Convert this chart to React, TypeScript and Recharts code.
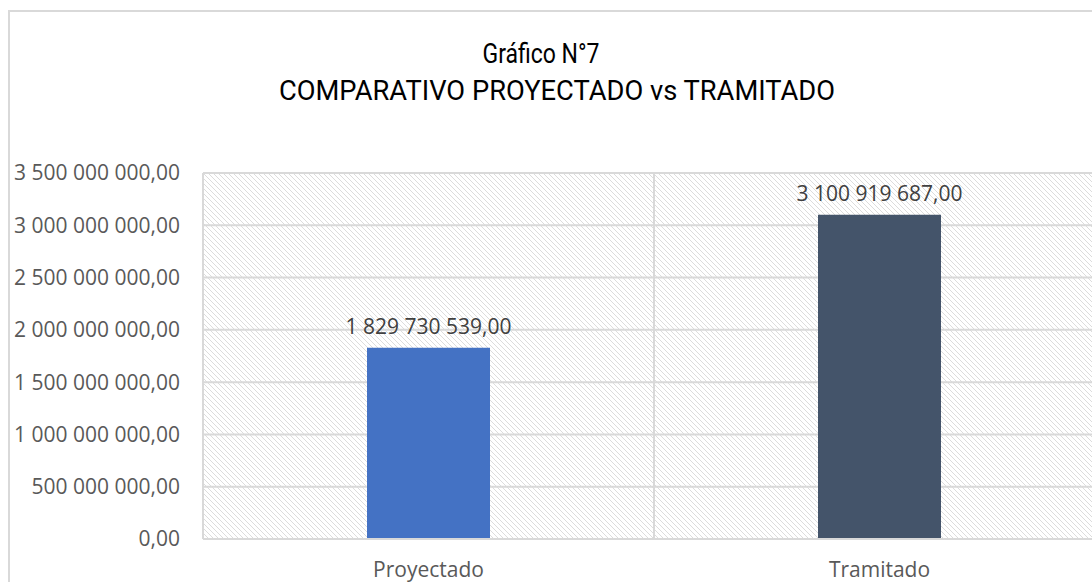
import React from 'react';
import { BarChart, Bar, XAxis, YAxis, CartesianGrid, LabelList, Cell } from 'recharts';

const categories = ['Proyectado', 'Tramitado'];
const amounts = [1829730539, 3100919687];
const barColors = ['#4472C4', '#44546A'];
const yTicks = [0, 500000000, 1000000000, 1500000000, 2000000000, 2500000000, 3000000000, 3500000000];

const data = categories.map((name, i) => ({ name, value: amounts[i] }));

// 3 500 000 000,00 style
const fmt = (v: number) => {
  const int = Math.round(v).toString().replace(/\B(?=(\d{3})+(?!\d))/g, ' ');
  return `${int},00`;
};

const font = '"Open Sans", "Noto Sans", sans-serif';

// single-line value label above each bar
const ValueLabel = (props: any) => {
  const { x, y, width, value } = props;
  return (
    <text x={x + width / 2} y={y - 14} textAnchor="middle" fill="#404040" fontSize={21} fontFamily={font}>
      {fmt(Number(value))}
    </text>
  );
};

export default function App() {
  return (
    <div style={{ position: 'absolute', left: 0, top: 0, width: 1092, height: 582, overflow: 'hidden', background: '#fff' }}>
      {/* chart frame */}
      <div style={{ position: 'absolute', left: 8, top: 10, width: 1200, height: 700, border: '2px solid #d9d9d9', boxSizing: 'border-box' }} />

      <svg width={1092} height={120} style={{ position: 'absolute', left: 0, top: 0 }}>
        <text x={541} y={63} textAnchor="middle" fontFamily="Roboto, sans-serif" fontSize={28} fill="#000" textLength={117} lengthAdjust="spacingAndGlyphs">
          Gráfico N°7
        </text>
        <text x={557} y={100} textAnchor="middle" fontFamily="Roboto, sans-serif" fontSize={28} fill="#000" textLength={556} lengthAdjust="spacingAndGlyphs">
          COMPARATIVO PROYECTADO vs TRAMITADO
        </text>
      </svg>

      <div style={{ position: 'absolute', left: 0, top: 0 }}>
        <BarChart width={1120} height={582} data={data} barSize={123} margin={{ top: 173, right: 15, bottom: 13, left: 0 }}>
          <defs>
            <pattern id="hatch" width={5} height={5} patternUnits="userSpaceOnUse">
              <rect width={5} height={5} fill="#ffffff" />
              <path d="M-1,-1 L6,6 M-1,4 L1,6 M4,-1 L6,1" stroke="#dcdcdc" strokeWidth={1} />
            </pattern>
          </defs>
          <CartesianGrid stroke="#d9d9d9" strokeWidth={2} fill="url(#hatch)" fillOpacity={1} verticalPoints={[203, 654, 1105]} />
          <XAxis
            dataKey="name"
            height={30}
            axisLine={{ stroke: '#d9d9d9', strokeWidth: 2 }}
            tickLine={false}
            tickMargin={17}
            tick={{ fill: '#595959', fontSize: 21, fontFamily: font }}
          />
          <YAxis
            width={203}
            domain={[0, 3500000000]}
            ticks={yTicks}
            tickFormatter={fmt}
            axisLine={false}
            tickLine={false}
            tickMargin={17}
            tick={{ fill: '#595959', fontSize: 21, fontFamily: font }}
          />
          <Bar dataKey="value" isAnimationActive={false}>
            {data.map((d, i) => (
              <Cell key={d.name} fill={barColors[i]} />
            ))}
            <LabelList dataKey="value" content={<ValueLabel />} />
          </Bar>
        </BarChart>
      </div>
    </div>
  );
}
